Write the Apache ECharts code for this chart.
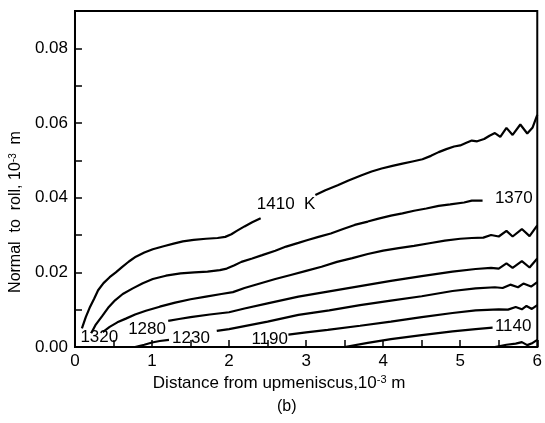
<!DOCTYPE html>
<html><head><meta charset="utf-8">
<script src="https://cdn.jsdelivr.net/npm/echarts@6/dist/echarts.min.js"></script>
<style>html,body{margin:0;padding:0;background:#fff}#c{width:545px;height:423px}</style>
</head><body><div id="c"></div>
<script>
// Tick labels
const xTickLabels = [0, 1, 2, 3, 4, 5, 6];
const yTickLabels = ['0.00', '0.02', '0.04', '0.06', '0.08'];

// Contour lines [distance, normal]
const c1410a = [[0.09,0.0050],[0.14,0.0080],[0.19,0.0105],[0.25,0.0130],[0.30,0.0152],[0.37,0.0171],[0.45,0.0187],[0.53,0.0200],[0.61,0.0214],[0.70,0.0229],[0.79,0.0242],[0.90,0.0253],[1.01,0.0262],[1.15,0.0270],[1.28,0.0277],[1.40,0.0283],[1.54,0.0287],[1.70,0.0290],[1.85,0.0292],[1.95,0.0295],[2.03,0.0302],[2.10,0.0311],[2.20,0.0323],[2.30,0.0334],[2.41,0.0345]];
const c1410b = [[3.12,0.0407],[3.25,0.0420],[3.41,0.0433],[3.55,0.0446],[3.72,0.0460],[3.85,0.0470],[3.98,0.0478],[4.12,0.0485],[4.25,0.0491],[4.38,0.0497],[4.51,0.0503],[4.62,0.0512],[4.72,0.0522],[4.82,0.0530],[4.92,0.0537],[5.00,0.0540],[5.08,0.0547],[5.15,0.0553],[5.22,0.0551],[5.31,0.0557],[5.38,0.0566],[5.45,0.0573],[5.52,0.0563],[5.60,0.0587],[5.68,0.0568],[5.78,0.0596],[5.87,0.0572],[5.94,0.0588],[6.00,0.0622]];
const c1370 = [[0.21,0.0037],[0.27,0.0060],[0.35,0.0082],[0.43,0.0105],[0.52,0.0125],[0.62,0.0142],[0.75,0.0157],[0.88,0.0171],[1.01,0.0182],[1.18,0.0191],[1.37,0.0197],[1.55,0.0200],[1.72,0.0202],[1.88,0.0206],[1.97,0.0210],[2.07,0.0219],[2.16,0.0228],[2.30,0.0237],[2.43,0.0246],[2.60,0.0258],[2.74,0.0269],[2.90,0.0279],[3.01,0.0286],[3.16,0.0295],[3.32,0.0304],[3.48,0.0316],[3.63,0.0327],[3.80,0.0336],[3.94,0.0344],[4.10,0.0352],[4.25,0.0358],[4.40,0.0365],[4.56,0.0371],[4.72,0.0378],[4.87,0.0382],[5.05,0.0387],[5.15,0.0392],[5.29,0.0392]];
const c1320 = [[0.36,0.0040],[0.45,0.0054],[0.55,0.0066],[0.66,0.0076],[0.78,0.0087],[0.92,0.0097],[1.10,0.0108],[1.30,0.0119],[1.50,0.0128],[1.70,0.0135],[1.90,0.0142],[2.05,0.0147],[2.20,0.0158],[2.40,0.0170],[2.60,0.0182],[2.80,0.0193],[3.00,0.0204],[3.20,0.0215],[3.40,0.0228],[3.60,0.0238],[3.80,0.0249],[4.00,0.0258],[4.20,0.0265],[4.40,0.0271],[4.60,0.0278],[4.80,0.0285],[5.00,0.0290],[5.15,0.0292],[5.30,0.0293],[5.40,0.0300],[5.50,0.0296],[5.60,0.0311],[5.68,0.0296],[5.80,0.0316],[5.90,0.0297],[6.00,0.0326]];
const c1280 = [[1.21,0.0070],[1.35,0.0075],[1.50,0.0080],[1.75,0.0087],[2.00,0.0093],[2.20,0.0103],[2.50,0.0117],[2.90,0.0135],[3.30,0.0149],[3.70,0.0163],[4.10,0.0177],[4.50,0.0190],[4.90,0.0202],[5.20,0.0209],[5.40,0.0212],[5.50,0.0210],[5.60,0.0224],[5.68,0.0212],[5.80,0.0230],[5.90,0.0213],[6.00,0.0237]];
const c1230a = [[0.78,0.0000],[0.90,0.0006],[1.00,0.0012],[1.10,0.0016],[1.22,0.0019]];
const c1230b = [[1.84,0.0043],[2.00,0.0048],[2.20,0.0056],[2.50,0.0068],[2.90,0.0086],[3.30,0.0098],[3.70,0.0112],[4.10,0.0124],[4.50,0.0136],[4.90,0.0150],[5.20,0.0157],[5.45,0.0160],[5.55,0.0158],[5.65,0.0167],[5.75,0.0160],[5.82,0.0170],[5.92,0.0162],[6.00,0.0174]];
const c1190 = [[2.77,0.0033],[3.00,0.0039],[3.28,0.0046],[3.70,0.0057],[4.10,0.0068],[4.50,0.0080],[4.90,0.0091],[5.20,0.0098],[5.50,0.0101],[5.62,0.0100],[5.72,0.0107],[5.80,0.0101],[5.86,0.0110],[5.93,0.0102],[6.00,0.0112]];
const c1140 = [[3.50,0.0000],[3.80,0.0011],[4.10,0.0021],[4.50,0.0032],[4.90,0.0042],[5.20,0.0048],[5.42,0.0052]];
const cBottom = [[5.45,0.0000],[5.60,0.0006],[5.72,0.0009],[5.80,0.0013],[5.87,0.0005],[5.94,0.0011],[6.00,0.0019]];

// Contour labels: [left x, centre y, text]
const contourLabels = [[2.36,0.0383,'1410  K'],[5.45,0.0398,'1370'],[0.07,0.0025,'1320'],[0.69,0.0048,'1280'],[1.26,0.0023,'1230'],[2.29,0.0020,'1190'],[5.45,0.0056,'1140']];

const FONT = 'Liberation Sans, Arial, Helvetica, sans-serif';
const segs = [c1410a, c1410b, c1370, c1320, c1280, c1230a, c1230b, c1190, c1140, cBottom];
const series = segs.map(d => ({
  type: 'line', data: d, showSymbol: false, symbol: 'none', smooth: false,
  lineStyle: { color: '#000', width: 2.2 }, silent: true, animation: false, z: 3
}));
series.push({
  type: 'scatter', data: contourLabels, symbolSize: 0, silent: true, animation: false, z: 5,
  itemStyle: { opacity: 1, color: '#000' },
  label: { show: true, position: 'right', distance: 0, formatter: p => p.data[2],
    color: '#000', opacity: 1, fontFamily: FONT, fontSize: 17 }
});

const chart = echarts.init(document.getElementById('c'), null, { renderer: 'canvas' });
chart.setOption({
  animation: false,
  backgroundColor: '#fff',
  grid: { left: 73, right: 2, top: 11, bottom: 76, show: true, borderColor: '#000', borderWidth: 2, backgroundColor: 'transparent' },
  xAxis: {
    type: 'value', min: 0, max: 6, interval: 0.5,
    name: 'Distance from upmeniscus,10{sup|-3} m', nameLocation: 'middle', nameGap: 25,
    nameTextStyle: { color: '#000', fontFamily: FONT, fontSize: 17, padding: [0, 54, 0, 0],
      rich: { sup: { fontSize: 11, fontFamily: FONT, color: '#000', verticalAlign: 'top', lineHeight: 10 } } },
    axisLine: { show: true, lineStyle: { color: '#000', width: 2 } },
    axisTick: { show: true, inside: true, length: 7, lineStyle: { color: '#000', width: 1.5 } },
    axisLabel: { color: '#000', fontFamily: FONT, fontSize: 17, margin: 6,
      formatter: v => (xTickLabels.indexOf(v) >= 0 ? String(v) : '') },
    splitLine: { show: false }
  },
  yAxis: {
    type: 'value', min: 0, max: 0.09, interval: 0.01,
    name: 'Normal  to  roll, 10{sup|-3}  m', nameLocation: 'middle', nameGap: 50,
    nameTextStyle: { color: '#000', fontFamily: FONT, fontSize: 16, padding: [0, 66, 0, 0],
      rich: { sup: { fontSize: 10, fontFamily: FONT, color: '#000', verticalAlign: 'top', lineHeight: 10 } } },
    axisLine: { show: true, lineStyle: { color: '#000', width: 2 } },
    axisTick: { show: true, inside: true, length: 7, lineStyle: { color: '#000', width: 1.5 } },
    axisLabel: { color: '#000', fontFamily: FONT, fontSize: 17, margin: 7,
      formatter: v => { const s = v.toFixed(2); return yTickLabels.indexOf(s) >= 0 ? s : ''; } },
    splitLine: { show: false }
  },
  graphic: [{ type: 'text', left: 277, top: 399, style: { text: '(b)', font: '16px ' + FONT, fill: '#000' } }],
  series: series
});
</script></body></html>
